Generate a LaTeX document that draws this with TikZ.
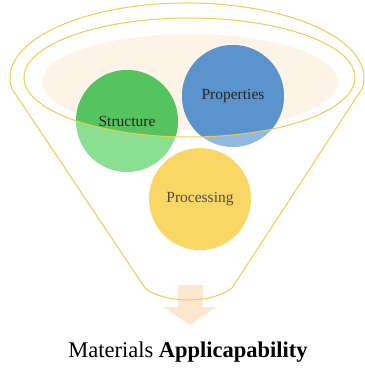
\documentclass[tikz,border=0pt]{standalone}
\usepackage{fontspec}
\setmainfont{Liberation Serif}
\definecolor{rimgold}{HTML}{EFCB50}
\definecolor{peach}{HTML}{FDF3E6}
\definecolor{arrowpeach}{HTML}{FDE8CF}
\definecolor{greendark}{HTML}{55C35E}
\definecolor{greenlight}{HTML}{8BDF91}
\definecolor{bluedark}{HTML}{5B93CC}
\definecolor{bluelight}{HTML}{93B8E0}
\definecolor{yellowfill}{HTML}{FAD665}
\usetikzlibrary{positioning}

\begin{document}
\begin{tikzpicture}[x=1pt,y=-1pt,
  rim/.style={draw=rimgold,line width=1pt},
  topic/.style={circle,minimum size=102pt,inner sep=0pt,font=\fontsize{15.5}{17}\selectfont,text=black!85}]
\useasboundingbox (0,0) rectangle (365,368);
\fill [peach] (190,82) ellipse [x radius=148, y radius=48];
\fill [arrowpeach] (178,285) -- (203,285) -- (203,307) -- (216,307) -- (190,325) -- (163,307) -- (178,307) -- cycle;
% funnel outline
\draw [rim] (11.7,88.4) arc [start angle=172, end angle=368, x radius=177, y radius=75]
  -- (232,288) .. controls (212,304) and (165,304) .. (145,288) -- cycle;
% circles, lighter below the rim
\node [topic,fill=greenlight] (struct) at (127,121) {};
\node [topic,fill=bluelight] (props) at (233,96) {};
\node [topic,fill=yellowfill,text=black!70] (proc) at (200,199) {Processing};
\begin{scope}
\clip (189.5,77.5) ellipse [x radius=165.5, y radius=59.5];
\fill [greendark] (struct) circle [radius=51];
\fill [bluedark] (props) circle [radius=51];
\end{scope}
\node [topic] at (struct) {Structure};
\node [topic] at (props) {Properties};
\draw [rim] (189.5,77.5) ellipse [x radius=165.5, y radius=59.5];
\node [font=\fontsize{22.5}{26}\selectfont] (title) at (188,352) {Materials \textbf{Applicapability}};
\end{tikzpicture}
\end{document}
